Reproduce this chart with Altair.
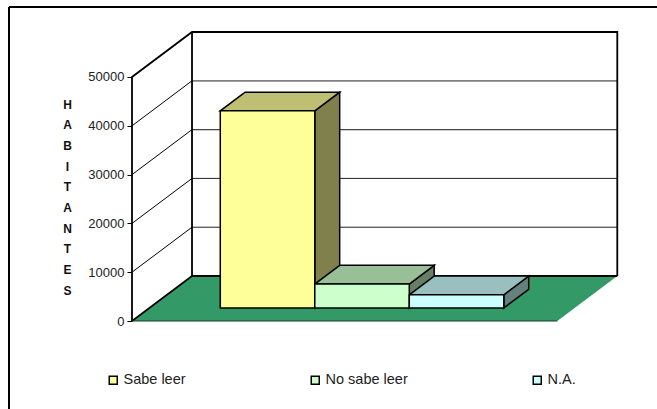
import altair as alt
import pandas as pd

# Readings per group
categories = ["Sabe leer", "No sabe leer", "N.A."]
habitantes = [40400, 4900, 2700]
front_colors = ["#FFFF99", "#CCFFCC", "#CCFFFF"]
top_colors = ["#BFBF73", "#99BF99", "#99BFBF"]
side_colors = ["#80804D", "#668066", "#668080"]
tick_values = [0, 10000, 20000, 30000, 40000, 50000]
grid_values = [10000, 20000, 30000, 40000]
grid_inks = ["#222222", "#222222", "#444444", "#808080"]
grid_widths = [1, 1, 1.2, 1.8]
axis_letters = list("HABITANTES")

# Oblique projection: one unit of depth shifts a point right and up
DEPTH_X = 0.635          # in bar widths
DEPTH_Y = 9220           # in inhabitants
FLOOR_W = 4.5            # three bars plus a 150% gap
GAP = 0.75
BAR_FRONT = 0.29         # depth of the bars' front face
BAR_DEPTH = 0.415        # depth of each bar

PLOT_W, PLOT_H = 485, 289
X_MAX = 5.132
Y_MAX = 59221
FONT = "Liberation Sans"

x_scale = alt.Scale(domain=[0, X_MAX], nice=False, zero=False)
y_scale = alt.Scale(domain=[0, Y_MAX], nice=False, zero=False)
y_axis = alt.Axis(
    values=tick_values,
    format="d",
    grid=False,
    domain=False,
    tickSize=5,
    tickColor="#000000",
    tickWidth=1,
    labelFont=FONT,
    labelFontSize=13,
    labelColor="#222222",
    labelPadding=3,
    title=axis_letters,
    titleFont=FONT,
    titleFontSize=12,
    titleFontWeight="bold",
    titleColor="#111111",
    titleAngle=0,
    titleLineHeight=20.7,
    titleAlign="center",
    titleBaseline="top",
    titleX=-65,
    titleY=67,
)
y_enc = alt.Y("y:Q", scale=y_scale, axis=y_axis)


def project(x, value, depth):
    return x + depth * DEPTH_X, value + depth * DEPTH_Y


def polyline(points, seg, ink, width):
    rows = []
    for i, (x, v, d) in enumerate(points):
        px, py = project(x, v, d)
        rows.append({"x": px, "y": py, "seg": seg, "i": i, "ink": ink, "w": width})
    return rows


# Walls and the bottom edges of the box
top = tick_values[-1]
frame_rows = []
frame_rows += polyline([(0, 0, 0), (0, top, 0), (0, top, 1), (FLOOR_W, top, 1), (FLOOR_W, 0, 1)], "outer", "#000000", 1.8)
frame_rows += polyline([(0, top, 1), (0, 0, 1), (FLOOR_W, 0, 1)], "back", "#000000", 1.8)
frame_rows += polyline([(0, 0, 0), (0, 0, 1)], "edge", "#000000", 1.6)
frame_rows += polyline([(0, 0, 0), (FLOOR_W, 0, 0)], "front", "#1A3D2A", 1.2)

grid_rows = []
for v, ink, w in zip(grid_values, grid_inks, grid_widths):
    grid_rows += polyline([(0, v, 0), (0, v, 1)], f"d{v}", "#000000", 1)
    grid_rows += polyline([(0, v, 1), (FLOOR_W, v, 1)], f"b{v}", ink, w)

# Floor as a horizontally oriented band
fx0, fy0 = project(0, 0, 0)
fx1, fy1 = project(0, 0, 1)
floor_frame = pd.DataFrame(
    {"y": [fy0, fy1], "x": [fx0, fx1], "x2": [fx0 + FLOOR_W, fx1 + FLOOR_W]}
)
floor = alt.Chart(floor_frame).mark_area(orient="horizontal", color="#339966").encode(
    y=y_enc,
    x=alt.X("x:Q", scale=x_scale, axis=None),
    x2="x2:Q",
)

side_rows, top_rows, front_rows = [], [], []
for i, (name, value) in enumerate(zip(categories, habitantes)):
    left = GAP + i
    right = left + 1
    near = BAR_FRONT
    far = BAR_FRONT + BAR_DEPTH
    # right-hand face
    for d in (near, far):
        px, low = project(right, 0, d)
        _, high = project(right, value, d)
        side_rows.append({"bar": name, "x": px, "y": high, "y2": low, "fill": side_colors[i]})
    # upper face
    for d in (near, far):
        pl, py = project(left, value, d)
        pr, _ = project(right, value, d)
        top_rows.append({"bar": name, "y": py, "x": pl, "x2": pr, "fill": top_colors[i]})
    # front face
    pl, base = project(left, 0, near)
    pr, high = project(right, value, near)
    front_rows.append({"bar": name, "x": pl, "x2": pr, "y": high, "y2": base})

sides = alt.Chart(pd.DataFrame(side_rows)).mark_area(stroke="#000000", strokeWidth=1.5).encode(
    x=alt.X("x:Q", scale=x_scale, axis=None),
    y=y_enc,
    y2="y2:Q",
    detail="bar:N",
    fill=alt.Fill("fill:N", scale=None),
)
tops = alt.Chart(pd.DataFrame(top_rows)).mark_area(
    orient="horizontal", stroke="#000000", strokeWidth=1.5
).encode(
    y=y_enc,
    x=alt.X("x:Q", scale=x_scale, axis=None),
    x2="x2:Q",
    detail="bar:N",
    fill=alt.Fill("fill:N", scale=None),
)
fronts = alt.Chart(pd.DataFrame(front_rows)).mark_rect(stroke="#000000", strokeWidth=1.5).encode(
    x=alt.X("x:Q", scale=x_scale, axis=None),
    x2="x2:Q",
    y=y_enc,
    y2="y2:Q",
    fill=alt.Fill(
        "bar:N",
        scale=alt.Scale(domain=categories, range=front_colors),
        legend=alt.Legend(
            title=None,
            orient="none",
            direction="horizontal",
            columns=3,
            legendX=-26,
            legendY=341,
            columnPadding=122,
            symbolType="square",
            symbolSize=64,
            symbolStrokeColor="#000000",
            symbolStrokeWidth=1.5,
            labelFont=FONT,
            labelFontSize=14.5,
            labelColor="#222222",
            labelOffset=3,
            gridAlign="none",
        ),
    ),
)


def lines(rows):
    return alt.Chart(pd.DataFrame(rows)).mark_line(interpolate="linear").encode(
        x=alt.X("x:Q", scale=x_scale, axis=None),
        y=y_enc,
        detail="seg:N",
        order="i:Q",
        stroke=alt.Stroke("ink:N", scale=None),
        strokeWidth=alt.StrokeWidth("w:Q", scale=None),
    )


# Outer chart border, open on the right and at the bottom
border_top = alt.Chart(pd.DataFrame({"k": [0]})).mark_rule(color="#000000", strokeWidth=2).encode(
    x=alt.value(-123), x2=alt.value(525), y=alt.value(-25)
)
border_left = alt.Chart(pd.DataFrame({"k": [0]})).mark_rule(color="#000000", strokeWidth=2).encode(
    x=alt.value(-123), y=alt.value(-25), y2=alt.value(377)
)

chart = (
    alt.layer(
        lines(grid_rows), floor, lines(frame_rows), sides, tops, fronts,
        border_top, border_left,
    )
    .properties(
        width=PLOT_W,
        height=PLOT_H,
        autosize=alt.AutoSizeParams(type="none"),
        padding={"left": 132, "top": 32, "right": 40, "bottom": 88},
        background="#FFFFFF",
    )
    .configure_view(strokeWidth=0)
)

chart.save("out.html", embed_options={"renderer": "svg", "actions": False})
